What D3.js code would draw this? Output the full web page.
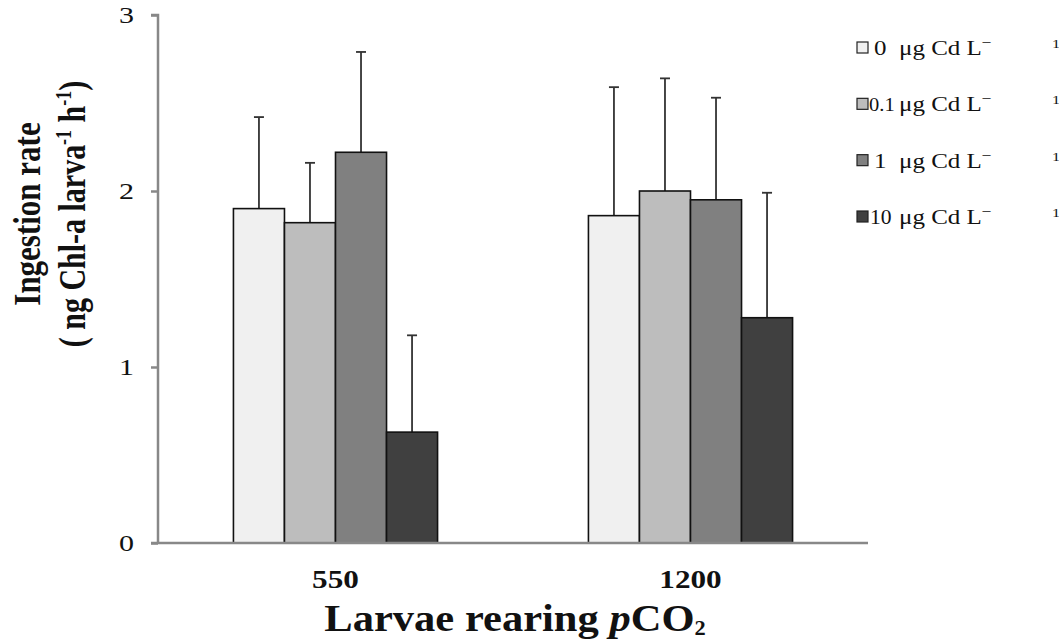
<!DOCTYPE html>
<html>
<head>
<meta charset="utf-8">
<script src="https://cdn.jsdelivr.net/npm/d3@7"></script>
<style>
  body { margin: 0; background: #fff; }
  text { font-family: "Liberation Serif", "Times New Roman", serif; fill: #111; }
</style>
</head>
<body>
<div id="chart"></div>
<script>
const groups = ['550', '1200'];
const doses = ['0', '0.1', '1', '10'];
const means550 = [1.90, 1.82, 2.22, 0.63];
const means1200 = [1.86, 2.00, 1.95, 1.28];
const sd550 = [0.52, 0.34, 0.57, 0.55];
const sd1200 = [0.73, 0.64, 0.58, 0.71];
const yTicks = [0, 1, 2, 3];
const fills = ['#f0f0f0', '#bdbdbd', '#808080', '#404040'];

const width = 1059, height = 643;
const margin = { top: 15, right: 191, bottom: 100, left: 158 };

const svg = d3.select('#chart').append('svg')
    .attr('width', width)
    .attr('height', height);

// text with a horizontal stretch, the source image is a bit wide
function stext(parent, x, y, sx) {
    return parent.append('text')
        .attr('transform', `translate(${x},${y}) scale(${sx || 1.25},1)`);
}

const x0 = d3.scaleBand()
    .domain(groups)
    .range([margin.left, width - margin.right])
    .paddingInner(0.425)
    .paddingOuter(0.2125);

const x1 = d3.scaleBand()
    .domain(doses)
    .range([0, x0.bandwidth()]);

const y = d3.scaleLinear()
    .domain([0, 3])
    .range([height - margin.bottom, margin.top]);

const rows = [];
groups.forEach((g, gi) => {
    const m = gi === 0 ? means550 : means1200;
    const s = gi === 0 ? sd550 : sd1200;
    doses.forEach((d, i) => rows.push({ group: g, dose: d, mean: m[i], sd: s[i], i: i }));
});

// error bars, upper half only
const err = svg.append('g').attr('stroke', '#333').attr('stroke-width', 1.8);
rows.forEach(r => {
    const cx = x0(r.group) + x1(r.dose) + x1.bandwidth() / 2;
    err.append('line')
        .attr('x1', cx).attr('x2', cx)
        .attr('y1', y(r.mean)).attr('y2', y(r.mean + r.sd));
    err.append('line')
        .attr('x1', cx - 5).attr('x2', cx + 5)
        .attr('y1', y(r.mean + r.sd)).attr('y2', y(r.mean + r.sd));
});

// bars
svg.append('g').selectAll('rect')
    .data(rows)
    .join('rect')
    .attr('x', d => x0(d.group) + x1(d.dose))
    .attr('y', d => y(d.mean))
    .attr('width', x1.bandwidth())
    .attr('height', d => y(0) - y(d.mean))
    .attr('fill', d => fills[d.i])
    .attr('stroke', '#111')
    .attr('stroke-width', 1.6);

// y axis
const yAxis = svg.append('g')
    .attr('transform', `translate(${margin.left},0)`)
    .call(d3.axisLeft(y).tickValues(yTicks).tickSize(7).tickFormat(''));
yAxis.select('.domain').attr('stroke', '#888').attr('stroke-width', 2.5).attr('d', `M-7,${y(3)}H0V${y(0)}`);
yAxis.selectAll('.tick line').attr('stroke', '#888').attr('stroke-width', 2.5);
yTicks.forEach(t => {
    stext(svg, 134, y(t) + 8)
        .attr('text-anchor', 'end')
        .attr('font-size', 24)
        .text(t);
});

// x axis baseline
svg.append('line')
    .attr('x1', margin.left - 7).attr('x2', width - margin.right)
    .attr('y1', y(0)).attr('y2', y(0))
    .attr('stroke', '#888').attr('stroke-width', 2.5);

// x tick labels
groups.forEach(g => {
    stext(svg, x0(g) + x0.bandwidth() / 2, 588, 1.2)
        .attr('text-anchor', 'middle')
        .attr('font-size', 26)
        .attr('font-weight', 'bold')
        .text(g);
});

// x title
const xt = stext(svg, 515, 631, 1.12)
    .attr('text-anchor', 'middle')
    .attr('font-size', 38)
    .attr('font-weight', 'bold');
xt.append('tspan').text('Larvae rearing ');
xt.append('tspan').attr('font-style', 'italic').text('p');
xt.append('tspan').text('CO');
xt.append('tspan').attr('font-size', 20).attr('dy', 4).text('2');

// y title
const yt = svg.append('g').attr('transform', 'translate(0,214) scale(1.25,1) rotate(-90)');
yt.append('text')
    .attr('x', 0).attr('y', 32)
    .attr('text-anchor', 'middle')
    .attr('font-size', 31)
    .attr('font-weight', 'bold')
    .text('Ingestion rate');
const yt2 = yt.append('text')
    .attr('x', 0).attr('y', 68)
    .attr('text-anchor', 'middle')
    .attr('font-size', 30)
    .attr('font-weight', 'bold');
yt2.append('tspan').text('( ng Chl-a larva');
yt2.append('tspan').attr('font-size', 18).attr('dy', -11).text('-1');
yt2.append('tspan').attr('dy', 11).text(' h');
yt2.append('tspan').attr('font-size', 18).attr('dy', -11).text('-1');
yt2.append('tspan').attr('dy', 11).text(')');

// legend
const legend = svg.append('g');
const legendY = d3.scalePoint().domain(doses).range([48, 217]);
doses.forEach((d, i) => {
    const ly = legendY(d);
    legend.append('rect')
        .attr('x', 857).attr('y', ly - 6)
        .attr('width', 11).attr('height', 11)
        .attr('fill', fills[i])
        .attr('stroke', '#222')
        .attr('stroke-width', 1.2);
    if (d === '0.1') {
        stext(legend, 869, ly + 7, 1.08).attr('font-size', 19).text(d);
    } else if (d === '10') {
        stext(legend, 870, ly + 7, 1.08).attr('font-size', 20).text(d);
    } else {
        stext(legend, 874, ly + 7).attr('font-size', 20).text(d);
    }
    const t = stext(legend, 899, ly + 7)
        .attr('font-size', 20);
    t.append('tspan').text('\u03bcg Cd L');
    t.append('tspan').attr('font-size', 14).attr('dy', -8).text('\u2212');
    stext(legend, 1052, ly)
        .attr('font-size', 13)
        .text('1');
});
</script>
</body>
</html>
